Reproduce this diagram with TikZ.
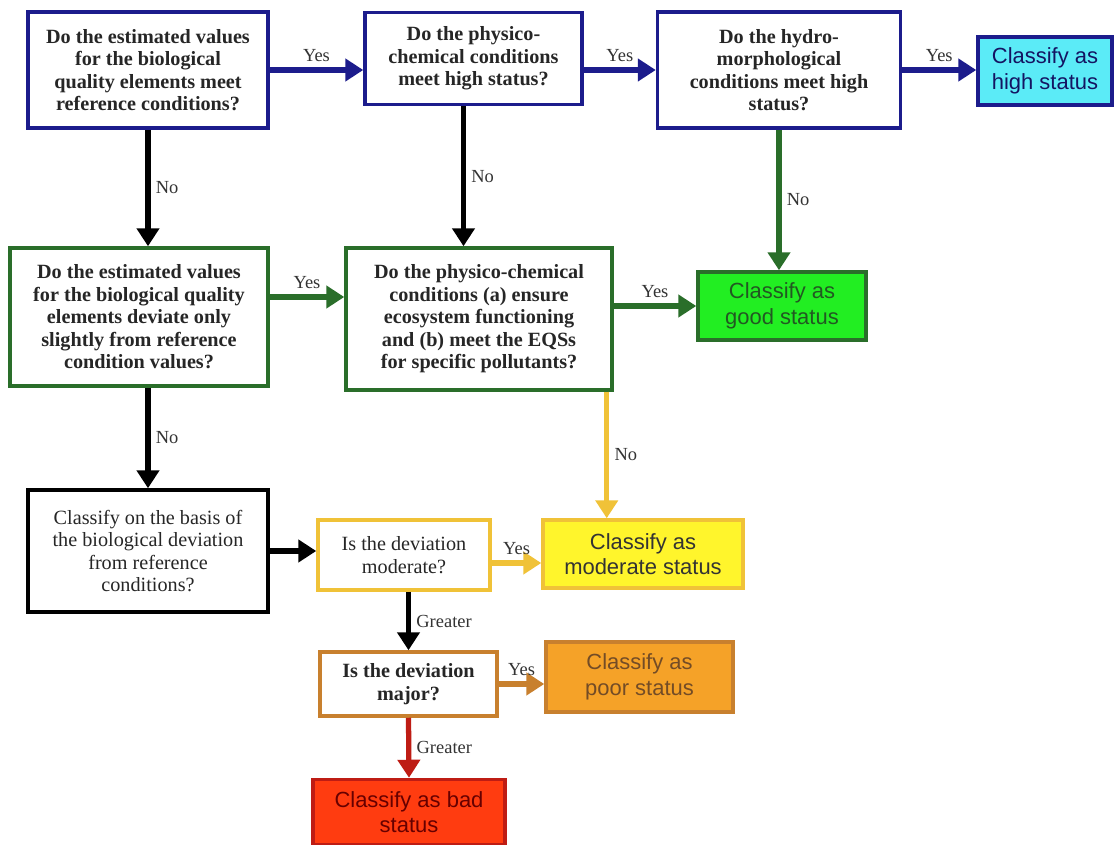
\documentclass[tikz,border=0pt]{standalone}
\usepackage{fontspec}
\setmainfont{Liberation Serif}
\setsansfont{Liberation Sans}
\usetikzlibrary{arrows.meta,
                quotes}

\definecolor{navyline}{HTML}{1C1C8C}
\definecolor{greenline}{HTML}{2A6E2A}
\definecolor{yellowline}{HTML}{F0C238}
\definecolor{brownline}{HTML}{C8802E}
\definecolor{redline}{HTML}{BE1C14}
\definecolor{highfill}{HTML}{5BEBF7}
\definecolor{goodfill}{HTML}{22EE22}
\definecolor{moderatefill}{HTML}{FFF52C}
\definecolor{poorfill}{HTML}{F5A228}
\definecolor{badfill}{HTML}{FF3C10}

\begin{document}
\begin{tikzpicture}[x=0.02cm, y=-0.02cm,
question/.style = {draw, line width=2pt, fill=white, align=center,
                   inner sep=2pt, text=black!85,
                   font=\bfseries\fontsize{11.5}{12.8}\selectfont},
verdict/.style  = {draw, line width=2pt, align=center,
                   font=\sffamily\fontsize{12.5}{14.5}\selectfont},
every edge/.style = {draw, line width=3pt,
                     -{Triangle[length=3.6mm, width=4.4mm]}},
every edge quotes/.style = {font=\fontsize{10.5}{12}\selectfont,
                            auto, inner sep=3pt, text=black!80}
                    ]
\useasboundingbox[fill=white] (0,0) rectangle (1116,845);
% first row: high status
\node[question, draw=navyline, minimum width=4.8cm, minimum height=2.32cm]
    (bioref) at (148,70) {Do the estimated values\\for the biological\\quality elements meet\\reference conditions?};
\node[question, draw=navyline, minimum width=4.34cm, minimum height=1.84cm]
    (physhigh) at (473.5,58.5) {Do the physico-\\chemical conditions\\meet high status?};
\node[question, draw=navyline, minimum width=4.86cm, minimum height=2.32cm]
    (hydrohigh) at (779,70) {Do the hydro-\\morphological\\conditions meet high\\status?};
\node[verdict, draw=navyline, fill=highfill, text=navyline!70!black,
      minimum width=2.68cm, minimum height=1.36cm]
    (high) at (1045,71) {Classify as\\high status};
% second row: good status
\node[question, draw=greenline, minimum width=5.16cm, minimum height=2.76cm]
    (biodev) at (139,317) {Do the estimated values\\for the biological quality\\elements deviate only\\slightly from reference\\condition values?};
\node[question, draw=greenline, minimum width=5.32cm, minimum height=2.84cm]
    (physgood) at (479,319) {Do the physico-chemical\\conditions (a) ensure\\ecosystem functioning\\and (b) meet the EQSs\\for specific pollutants?};
\node[verdict, draw=greenline, fill=goodfill, text=greenline!80!black,
      minimum width=3.36cm, minimum height=1.36cm]
    (good) at (782,306) {Classify as\\good status};
% lower part: moderate, poor, bad
\node[question, draw=black, font=\fontsize{11.5}{12.8}\selectfont,
      minimum width=4.8cm, minimum height=2.44cm]
    (biobasis) at (148,551) {Classify on the basis of\\the biological deviation\\from reference\\conditions?};
\node[question, draw=yellowline, font=\fontsize{11.5}{12.8}\selectfont,
      minimum width=3.44cm, minimum height=1.4cm]
    (moderateq) at (404,555) {Is the deviation\\moderate?};
\node[verdict, draw=yellowline, fill=moderatefill, text=black!80,
      minimum width=4cm, minimum height=1.36cm]
    (moderate) at (643,554) {Classify as\\moderate status};
\node[question, draw=brownline, minimum width=3.54cm, minimum height=1.28cm]
    (majorq) at (408.5,684) {Is the deviation\\major?};
\node[verdict, draw=brownline, fill=poorfill, text=brown!60!black,
      minimum width=3.74cm, minimum height=1.4cm]
    (poor) at (639.5,677) {Classify as\\poor status};
\node[verdict, draw=redline, fill=badfill, text=red!40!black,
      minimum width=3.84cm, minimum height=1.3cm]
    (bad) at (409,812) {Classify as bad\\status};
%
\coordinate (bf) at ([xshift=-2mm]physhigh.south);
\coordinate (ef) at ([yshift=4mm]biodev.east);
\coordinate (fm) at ([xshift=-1.4mm]physgood.south east);
\coordinate (jm) at ([yshift=-1.6mm]moderateq.east);
\draw
    (bioref.east) edge[navyline, "Yes"] (bioref.east -| physhigh.west)
    (hydrohigh.west -| physhigh.east) edge[navyline, "Yes"] (hydrohigh.west)
    (hydrohigh.east) edge[navyline, "Yes"] (hydrohigh.east -| high.west)
    (bioref.south) edge[black, "No"] (bioref.south |- biodev.north)
    (bf) edge[black, "No"] (bf |- physgood.north)
    (hydrohigh.south) edge[greenline, "No"] (hydrohigh.south |- good.north)
    (ef) edge[greenline, "Yes"] (ef -| physgood.west)
    (good.west -| physgood.east) edge[greenline, "Yes"] (good.west)
    (fm) edge[yellowline, "No"] (fm |- moderate.north)
    (biobasis.north |- biodev.south) edge[black, "No"] (biobasis.north)
    (biobasis.east) edge[black] (biobasis.east -| moderateq.west)
    (jm) edge[yellowline, "Yes"] (jm -| moderate.west)
    (majorq.north |- moderateq.south) edge[black, "Greater"] (majorq.north)
    (majorq.east) edge[brownline, "Yes"] (majorq.east -| poor.west)
    (majorq.south) edge[redline, "Greater"] (bad.north);
\end{tikzpicture}
\end{document}
